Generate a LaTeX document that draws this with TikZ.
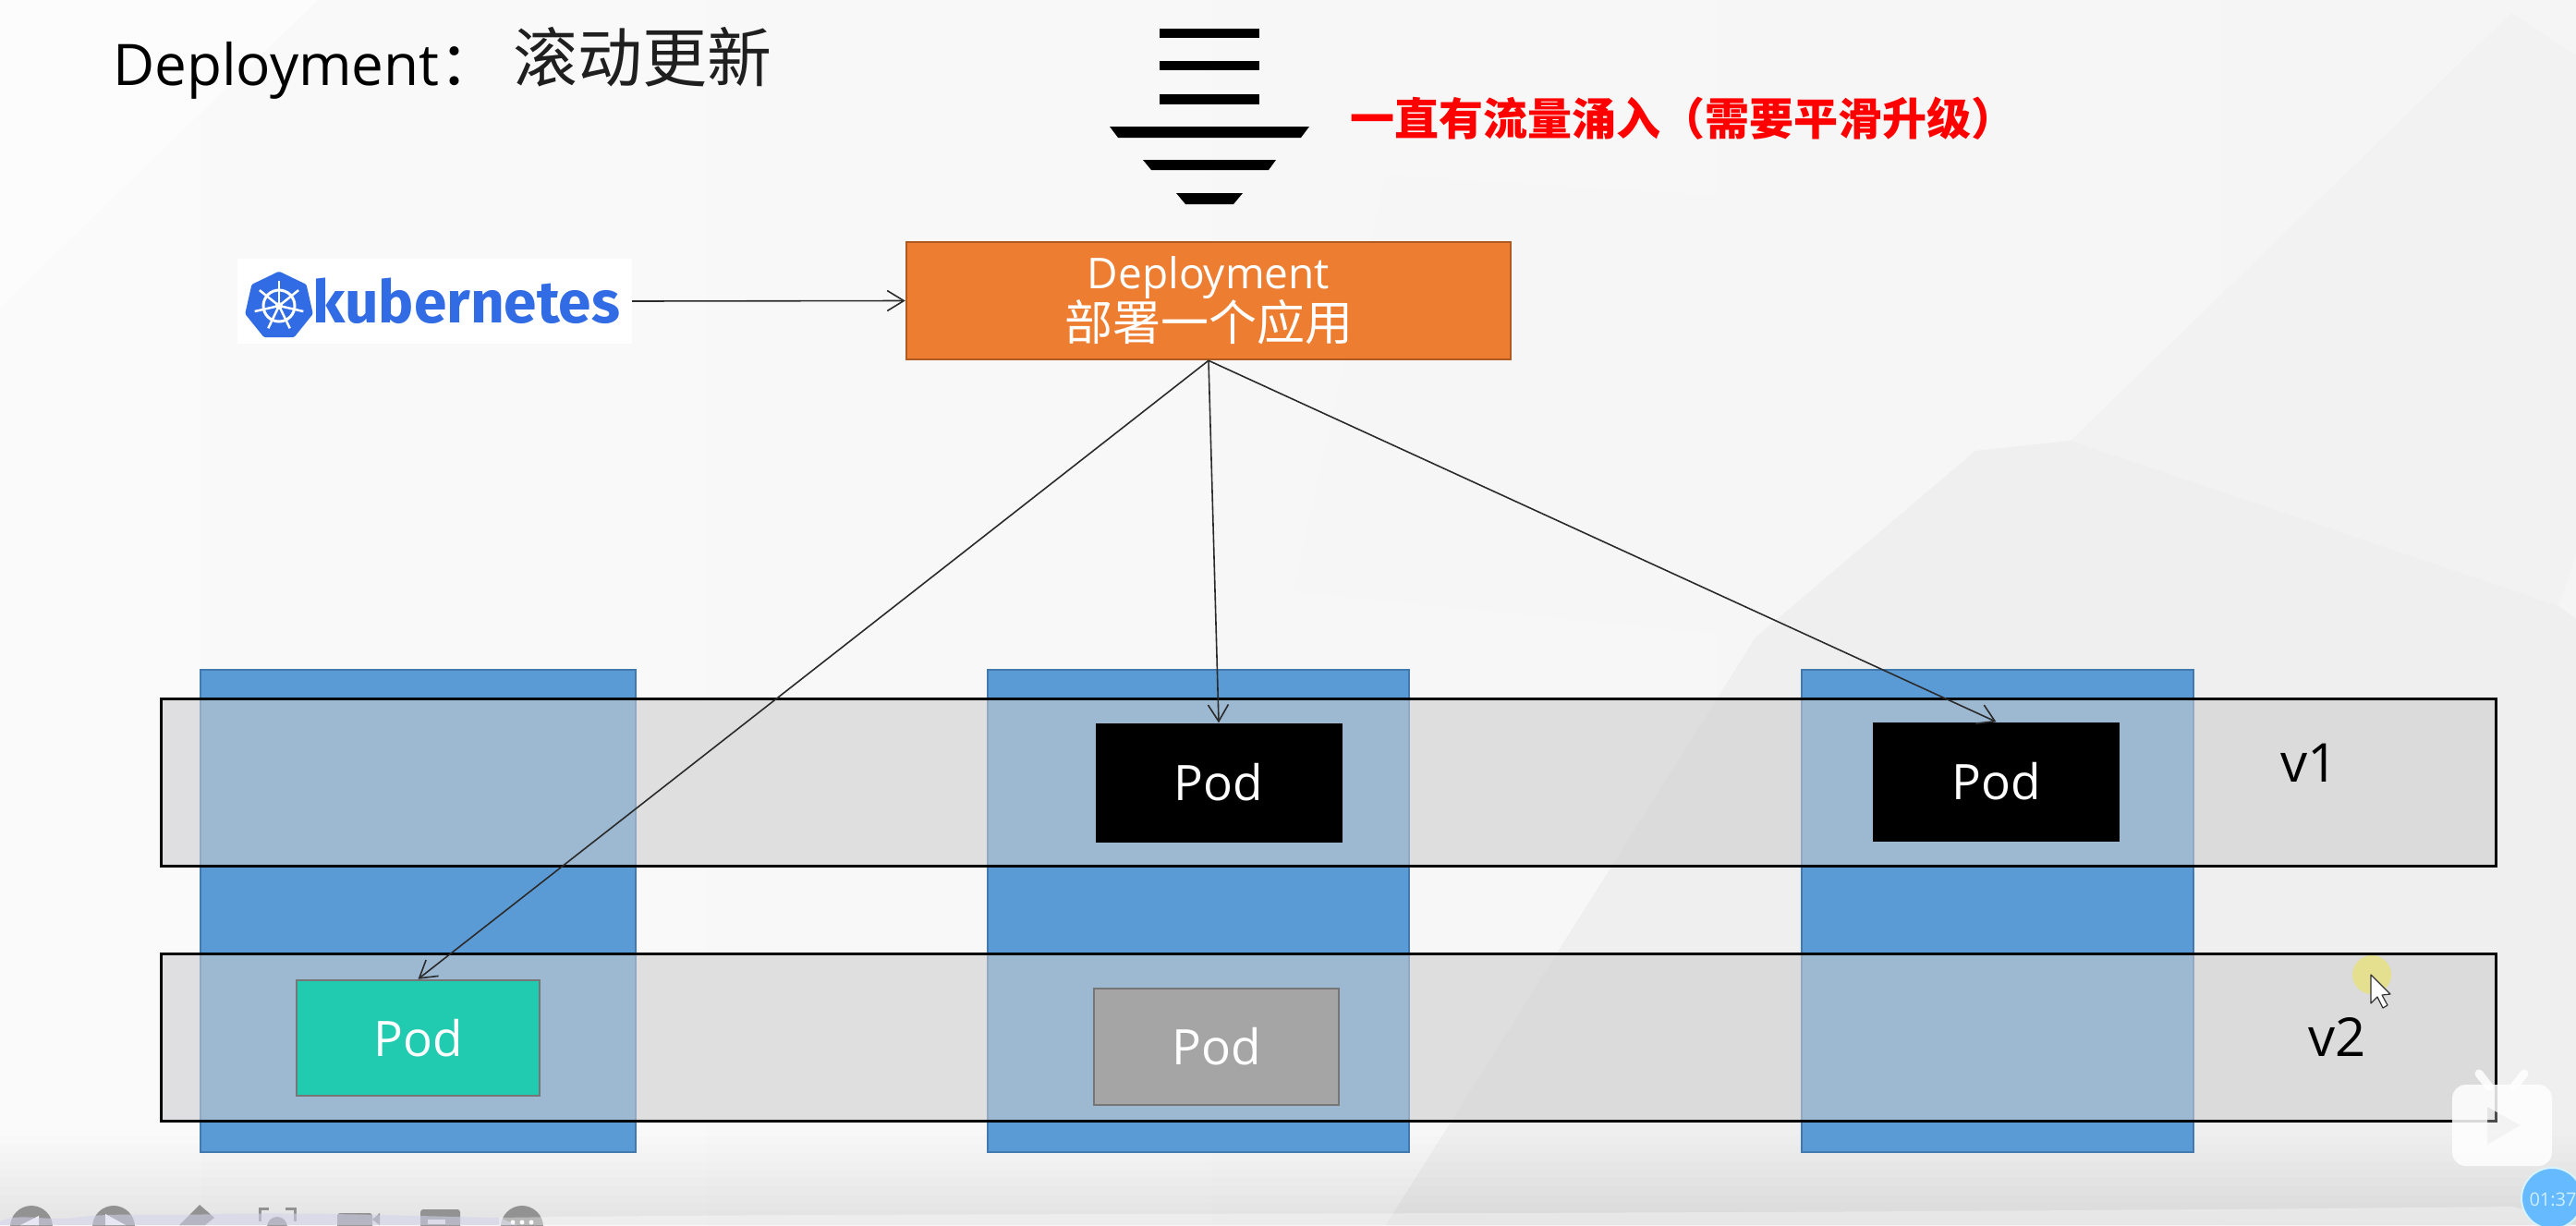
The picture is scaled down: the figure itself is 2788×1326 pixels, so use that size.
\documentclass[tikz,border=0pt]{standalone}
\usepackage{fontspec}
\usetikzlibrary{arrows.meta}
\setmainfont{Open Sans}
\newfontfamily\cjk{Noto Sans CJK SC}
\newfontfamily\logofont{Fira Sans}
\definecolor{colfill}{HTML}{5B9BD5}
\definecolor{coledge}{HTML}{4279AE}
\definecolor{bandfill}{HTML}{CDCDCF}
\definecolor{orangebox}{HTML}{ED7D31}
\definecolor{orangeedge}{HTML}{AE5A21}
\definecolor{podgreen}{HTML}{20CBAF}
\definecolor{podgray}{HTML}{A5A5A5}
\definecolor{podedge}{HTML}{767676}
\definecolor{k8sblue}{HTML}{326CE5}
\definecolor{arrowink}{HTML}{2B2B2B}
\definecolor{uigray}{HTML}{929292}
\tikzset{
  sz/.style={font=\fontsize{#1}{#1}\selectfont},
  column/.style={draw=coledge,fill=colfill,line width=2.5pt,inner sep=0pt,minimum width=#1,minimum height=522pt},
  band/.style={draw=black,fill=bandfill,fill opacity=.58,line width=3pt,inner sep=0pt,minimum width=2527pt,minimum height=181pt},
  podbase/.style={text=white,inner sep=0pt,font=\fontsize{53}{53}\selectfont},
  blackpod/.style={podbase,fill=black,minimum width=267pt,minimum height=129pt},
  greenpod/.style={podbase,fill=podgreen,draw=podedge,line width=2.5pt,minimum width=263pt,minimum height=125pt},
  graypod/.style={podbase,fill=podgray,draw=podedge,line width=2.5pt,minimum width=265pt,minimum height=126pt},
  flow/.style={draw=arrowink,line width=1.6pt,-{Straight Barb[length=18pt,width=22pt,line width=1.6pt]}},
  ui/.style={fill=uigray},
}
\begin{document}
\begin{tikzpicture}[x=1pt,y=-1pt]
\useasboundingbox (0,0) rectangle (2788,1326);
% background
\shade[left color=white!98!black,right color=white!96!black] (0,0) rectangle (2788,1326);
\fill[white!99!black] (0,0) -- (344,0) -- (0,333) -- cycle;
\fill[white!96.5!black] (1500,190) -- (1933,217) -- (2086,350) -- (2138,488) -- (1900,690) -- (1400,640) -- cycle;
\fill[white!95!black] (2718,14) -- (2241,477) -- (2769,656) -- (2788,600) -- (2788,60) -- cycle;
\fill[white!93.7!black] (2241,477) -- (2138,488) -- (1900,690) -- (1500,1326) -- (2788,1326) -- (2788,670) -- (2769,656) -- cycle;
\foreach \i in {0,...,9} \fill[black,opacity=.007] (0,{1230+9*\i}) rectangle (2788,1326);
% columns and bands
\node[column=471pt] (col1) at (452.5,986) {};
\node[column=456pt] (col2) at (1297,986) {};
\node[column=424pt] (col3) at (2162,986) {};
\node[band] (bandA) at (1437.5,847) {};
\node[band] (bandB) at (1437.5,1122.5) {};
% pods
\node[blackpod] (podA) at (1319,847) {Pod};
\node[blackpod] (podB) at (2160.5,846) {Pod};
\node[greenpod] (podC) at (452.5,1123.5) {Pod};
\node[graypod] (podD) at (1316.5,1133) {Pod};
\node[sz=58,anchor=base] (vone) at (2500,846) {v1};
\node[sz=58,anchor=base] (vtwo) at (2530,1143) {v2};
% title and note
\node[sz=62,anchor=base west,inner sep=0pt] (title) at (122,92) {Deployment\raisebox{0pt}{\cjk\fontsize{66}{66}\selectfont ：}};
\node[sz=70,anchor=base west,inner sep=0pt,text=black!88] (titlecn) at (555,88) {\cjk 滚动更新};
\node[sz=48,anchor=base west,inner sep=0pt,text=red] (note) at (1461,146) {\cjk\bfseries 一直有流量涌入（需要平滑升级）};
% traffic stripes
\fill[black] (1255,31) rectangle (1363,41);
\fill[black] (1255,66) rectangle (1363,76);
\fill[black] (1255,102) rectangle (1363,113);
\fill[black] (1201,137) -- (1417,137) -- (1408,149) -- (1210,149) -- cycle;
\fill[black] (1237,173) -- (1381,173) -- (1373,184) -- (1246,184) -- cycle;
\fill[black] (1273,209) -- (1345,209) -- (1335,221) -- (1283,221) -- cycle;
% deployment
\node[fill=orangebox,draw=orangeedge,line width=2.5pt,minimum width=654pt,minimum height=127pt,inner sep=0pt,text=white,align=center,font=\fontsize{46}{60}\selectfont] (deploy) at (1308,325.5)
  {Deployment\\[-4pt]{\cjk\fontsize{52}{60}\selectfont 部署一个应用}};
% kubernetes logo
\node[fill=white,inner xsep=13pt,inner ysep=0pt,minimum height=92pt,text width=401pt,align=right,text=k8sblue,font=\logofont\bfseries\fontsize{64}{64}\selectfont] (k8s) at (470.5,326) {kubernetes};
\fill[k8sblue,draw=k8sblue,line width=6pt,line join=round]
  (302,297) -- (329,310) -- (335.5,339) -- (317,362) -- (287,362) -- (268.5,339) -- (275,310) -- cycle;
\draw[white,line width=3pt] (302,331) circle (17);
\foreach \a in {-90,-38.6,12.9,64.3,115.7,167.1,218.6}
  \draw[white,line width=2.5pt] (302,331) -- ++(\a:27);
\fill[white] (302,331) circle (4);
% connectors
\draw[flow] (k8s.east) -- (deploy.west);
\draw[flow] (deploy.south) -- (podC.north);
\draw[flow] (deploy.south) -- (podA.north);
\draw[flow] (deploy.south) -- (podB.north);
% pointer
\fill[yellow!55!white!90!black,opacity=.75] (2567,1055) circle (21);
\draw[fill=white,draw=black!80,line width=1.2pt,line join=round] (2566,1055) -- (2566,1086) -- (2573,1079) -- (2579,1091) -- (2584,1088) -- (2578,1077) -- (2587,1076) -- cycle;
% player badge
\fill[white,opacity=.85,even odd rule,rounded corners=15pt] (2654,1174) rectangle (2762,1262)
  [sharp corners] (2692,1198) -- (2692,1239) -- (2728,1218) -- cycle;
\draw[white,opacity=.85,line width=9pt,line cap=round] (2683,1162) -- (2694,1176);
\draw[white,opacity=.85,line width=9pt,line cap=round] (2732,1162) -- (2721,1176);
\fill[white,opacity=.3] (2692,1198) -- (2692,1239) -- (2728,1218) -- cycle;
% bottom toolbar
\fill[ui] (34,1328) circle (23);
\fill[white] (22,1326) -- (42,1316) -- (42,1326) -- cycle;
\fill[ui] (123,1328) circle (23);
\fill[white] (114,1314) -- (136,1326) -- (114,1326) -- cycle;
\fill[ui] (216,1304) -- (232,1318) -- (222,1326) -- (194,1326) -- cycle;
\draw[uigray,line width=3pt] (281,1322) -- (281,1308) -- (291,1308) (309,1308) -- (319,1308) -- (319,1322);
\fill[ui] (300,1328) circle (11);
\fill[ui,rounded corners=3pt] (365,1313) rectangle (403,1330);
\fill[ui] (403,1320) -- (411,1313) -- (411,1326) -- cycle;
\fill[ui,rounded corners=3pt] (455,1309) rectangle (498,1330);
\fill[white!90!black] (463,1320) rectangle (482,1325);
\fill[ui] (565,1328) circle (23);
\fill[white] (555,1323) circle (2.5) (565,1323) circle (2.5) (575,1323) circle (2.5);
\fill[white!30!cyan!25!blue!18!white,opacity=.55] (0,1322) .. controls (20,1312) and (50,1322) .. (80,1318) .. controls (120,1312) and (180,1316) .. (240,1314) .. controls (330,1312) and (440,1316) .. (540,1318) -- (560,1326) -- (0,1326) -- cycle;
\fill[white,opacity=.35] (540,1318) .. controls (900,1312) and (1800,1316) .. (2720,1306) -- (2788,1326) -- (540,1326) -- cycle;
% timer badge
\fill[blue!45!cyan!60!white,draw=white!85!cyan,line width=2pt] (2762,1297) circle (33);
\node[sz=20,text=white!80!cyan,inner sep=0pt] (timer) at (2763,1298) {01:37};
\end{tikzpicture}
\end{document}
